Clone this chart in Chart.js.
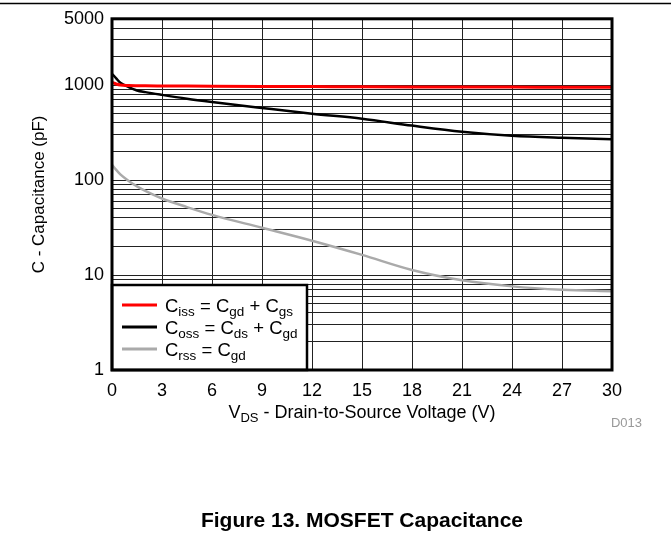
<!DOCTYPE html>
<html><head><meta charset="utf-8">
<script src="https://cdn.jsdelivr.net/npm/chart.js@4.4.0/dist/chart.umd.min.js"></script>
<style>html,body{margin:0;padding:0;background:#fff}#wrap{width:671px;height:539px;position:relative}</style>
</head><body><div id="wrap"><canvas id="c"></canvas></div>
<script>
// ---- data ----
const vds  = [0, 0.25, 0.5, 1, 1.5, 2, 3, 4.5, 6, 9, 12, 15, 18, 21, 24, 27, 30];
const ciss = [1070, 1030, 1005, 993, 988, 985, 982, 978, 975, 970, 966, 962, 959, 956, 954, 952, 950];
const coss = [1320, 1180, 1060, 955, 880, 845, 790, 720, 665, 575, 500, 443, 375, 323, 293, 279, 270];
const crss = [145, 128, 115, 98, 86, 77, 64, 52, 43, 31.5, 23, 16.3, 11.3, 8.8, 7.6, 7.0, 6.75];
const xTicks = [0, 3, 6, 9, 12, 15, 18, 21, 24, 27, 30];
const yTickLabels = [1, 10, 100, 1000, 5000];
const yGrid = [1,2,3,4,5,6,7,8,9,10,20,30,40,50,60,70,80,90,100,200,300,400,500,600,700,800,900,1000,2000,3000,4000,5000];
const seriesNames = ['Ciss = Cgd + Cgs', 'Coss = Cds + Cgd', 'Crss = Cgd'];
const legendParts = [
  [['C',0],['iss',1],[' = C',0],['gd',1],[' + C',0],['gs',1]],
  [['C',0],['oss',1],[' = C',0],['ds',1],[' + C',0],['gd',1]],
  [['C',0],['rss',1],[' = C',0],['gd',1]]
];
const xTitleParts = [['V',0],['DS',1],[' - Drain-to-Source Voltage (V)',0]];
const yTitle = 'C - Capacitance (pF)';
const figTitle = 'Figure 13. MOSFET Capacitance';
const figCode = 'D013';
const colors = ['#ff0000', '#000000', '#aaaaaa'];

const FONT = 'Liberation Sans, Arial, Helvetica, sans-serif';

function pts(ys){ return vds.map((x,i)=>({x:x, y:ys[i]})); }

function drawParts(ctx, parts, x, y, align, main, sub){
  let w = 0;
  parts.forEach(p=>{ ctx.font = (p[1]?sub:main)+'px '+FONT; w += ctx.measureText(p[0]).width; });
  let cx = align==='center' ? x - w/2 : x;
  ctx.textAlign = 'left'; ctx.textBaseline = 'alphabetic';
  parts.forEach(p=>{
    ctx.font = (p[1]?sub:main)+'px '+FONT;
    ctx.fillText(p[0], cx, p[1] ? y+4 : y);
    cx += ctx.measureText(p[0]).width;
  });
}

const deco = {
  id:'deco',
  afterDatasetsDraw(chart){
    const ctx = chart.ctx, a = chart.chartArea;
    ctx.save();
    const bx = a.left, by = 285, bw = 307 - a.left, bh = a.bottom - 285;
    ctx.fillStyle = '#fff';
    ctx.fillRect(bx, by, bw, bh);
    ctx.strokeStyle = '#000'; ctx.lineWidth = 2.5;
    ctx.strokeRect(bx, by, bw, bh);
    const rows = [305, 327, 349];
    chart.data.datasets.forEach((ds,i)=>{
      ctx.strokeStyle = ds.borderColor; ctx.lineWidth = 3;
      ctx.beginPath(); ctx.moveTo(122, rows[i]); ctx.lineTo(157, rows[i]); ctx.stroke();
      ctx.fillStyle = '#000';
      drawParts(ctx, legendParts[i], 165, rows[i]+6.5, 'left', 18.5, 13.5);
    });
    ctx.strokeStyle = '#000'; ctx.lineWidth = 3;
    ctx.strokeRect(a.left, a.top, a.right-a.left, a.bottom-a.top);
    ctx.restore();
  },
  afterDraw(chart){
    const ctx = chart.ctx, a = chart.chartArea;
    ctx.save();
    ctx.strokeStyle = '#000'; ctx.lineWidth = 1.5;
    ctx.beginPath(); ctx.moveTo(0, 3.5); ctx.lineTo(chart.width, 3.5); ctx.stroke();
    ctx.fillStyle = '#000';
    drawParts(ctx, xTitleParts, (a.left+a.right)/2, 418, 'center', 18, 13);
    ctx.fillStyle = '#999'; ctx.font = '13px '+FONT;
    ctx.textAlign = 'right'; ctx.textBaseline = 'middle';
    ctx.fillText(figCode, 642, 423);
    ctx.restore();
  }
};

const H = 539, TSIZE = 21, TPADB = 5;
new Chart(document.getElementById('c'), {
  type: 'line',
  data: {
    datasets: [
      {label: seriesNames[0], data: pts(ciss), borderColor: colors[0], borderWidth: 3, order: 1},
      {label: seriesNames[1], data: pts(coss), borderColor: colors[1], borderWidth: 2.5, order: 2},
      {label: seriesNames[2], data: pts(crss), borderColor: colors[2], borderWidth: 2.5, order: 3}
    ]
  },
  options: {
    responsive: true, maintainAspectRatio: false, animation: false,
    devicePixelRatio: 1,
    layout: {padding: {top: 16, right: 59, left: 0, bottom: 0}},
    elements: {point: {radius: 0}, line: {cubicInterpolationMode: 'monotone', fill: false}},
    plugins: {
      legend: {display: false},
      tooltip: {enabled: false},
      title: {
        display: true, text: figTitle, position: 'bottom', fullSize: false,
        color: '#000', font: {family: FONT, size: TSIZE, weight: 'bold', lineHeight: 1.2},
        padding: {top: 0, bottom: TPADB}
      }
    },
    scales: {
      x: {
        type: 'linear', min: 0, max: 30,
        afterBuildTicks: s => { s.ticks = xTicks.map(v=>({value:v})); },
        afterFit: s => { s.height = H - 370 - (TSIZE*1.2 + TPADB); },
        grid: {color: '#222', lineWidth: 1, drawTicks: false},
        border: {display: false},
        ticks: {color: '#000', font: {family: FONT, size: 18}, padding: 10, maxRotation: 0, autoSkip: false}
      },
      y: {
        type: 'logarithmic', min: 1, max: 5000,
        afterBuildTicks: s => { s.ticks = yGrid.map(v=>({value:v})); },
        afterFit: s => { s.width = 112; },
        grid: {color: '#222', lineWidth: 1, drawTicks: false},
        border: {display: false},
        ticks: {
          color: '#000', font: {family: FONT, size: 18}, padding: 8, autoSkip: false,
          callback: v => yTickLabels.includes(v) ? String(v) : ''
        },
        title: {display: true, text: yTitle, color: '#000', font: {family: FONT, size: 17}, padding: {top: 29, bottom: 0}}
      }
    }
  },
  plugins: [deco]
});
</script></body></html>
